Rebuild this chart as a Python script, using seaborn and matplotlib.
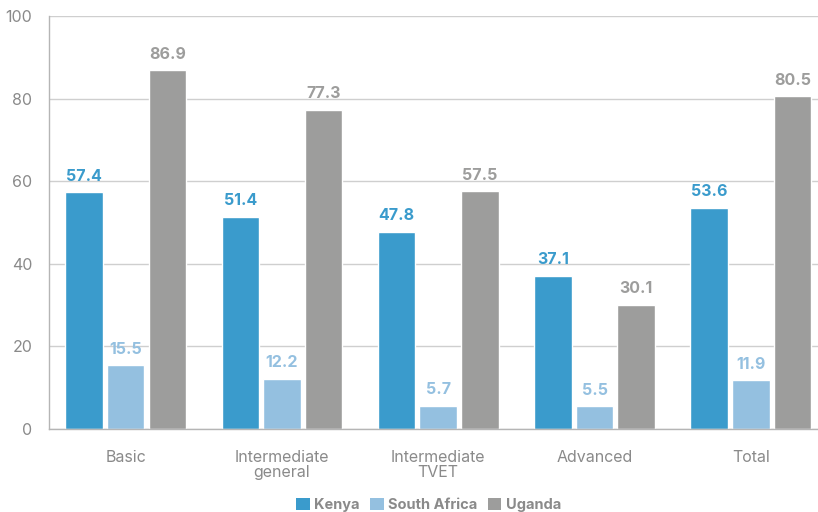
import matplotlib
matplotlib.use("Agg")
import matplotlib.pyplot as plt
import seaborn as sns
import pandas as pd
from matplotlib.patches import Patch

categories = ["Basic", "Intermediate\ngeneral", "Intermediate\nTVET", "Advanced", "Total"]
series = ["Kenya", "South Africa", "Uganda"]
kenya = [57.4, 51.4, 47.8, 37.1, 53.6]
south_africa = [15.5, 12.2, 5.7, 5.5, 11.9]
uganda = [86.9, 77.3, 57.5, 30.1, 80.5]
yticks = [0, 20, 40, 60, 80, 100]

colors = ["#3a9bcc", "#94c0e0", "#9d9d9c"]
label_colors = ["#3a9bcc", "#94c0e0", "#9d9d9c"]

rows = []
for s, vals in zip(series, [kenya, south_africa, uganda]):
    for c, v in zip(categories, vals):
        rows.append({"category": c, "series": s, "value": v})
df = pd.DataFrame(rows)

sns.set_theme(style="white")
plt.rcParams["font.family"] = ["Inter", "DejaVu Sans"]

fig = plt.figure(figsize=(8.18, 5.12), dpi=100)
ax = fig.add_axes([0.06, 0.162, 0.94, 0.807])

sns.barplot(data=df, x="category", y="value", hue="series", order=categories,
            hue_order=series, palette=colors, width=0.8, gap=0.1,
            saturation=1, ax=ax, legend=False, errorbar=None)

for cont, lc in zip(ax.containers, label_colors):
    ax.bar_label(cont, fmt="%.1f", padding=6, color=lc, fontsize=11.5,
                 fontweight="bold")

ax.set_ylim(0, 100)
ax.set_yticks(yticks)
ax.set_xlim(-0.49, 4.43)
ax.yaxis.grid(True, color="#cfcfcf", linewidth=1)
ax.set_axisbelow(True)
for side in ["top", "right"]:
    ax.spines[side].set_visible(False)
for side in ["left", "bottom"]:
    ax.spines[side].set_color("#b5b5b5")
    ax.spines[side].set_linewidth(1)
ax.tick_params(axis="both", colors="#8a8a8a", labelsize=11.5, length=0)
ax.tick_params(axis="x", pad=15)
ax.tick_params(axis="y", pad=12)
for lbl in ax.get_xticklabels():
    lbl.set_linespacing(1.05)
ax.set_xlabel("")
ax.set_ylabel("")

handles = [Patch(facecolor=c, edgecolor="none") for c in colors]
leg = fig.legend(handles, series, loc="lower center", bbox_to_anchor=(0.524, -0.026),
                 ncol=3, frameon=False, handlelength=0.9, handleheight=0.9,
                 handletextpad=0.3, columnspacing=0.75,
                 prop={"weight": "bold", "size": 10.5})
for t in leg.get_texts():
    t.set_color("#8a8a8a")

fig.savefig("out.png", dpi=100)
